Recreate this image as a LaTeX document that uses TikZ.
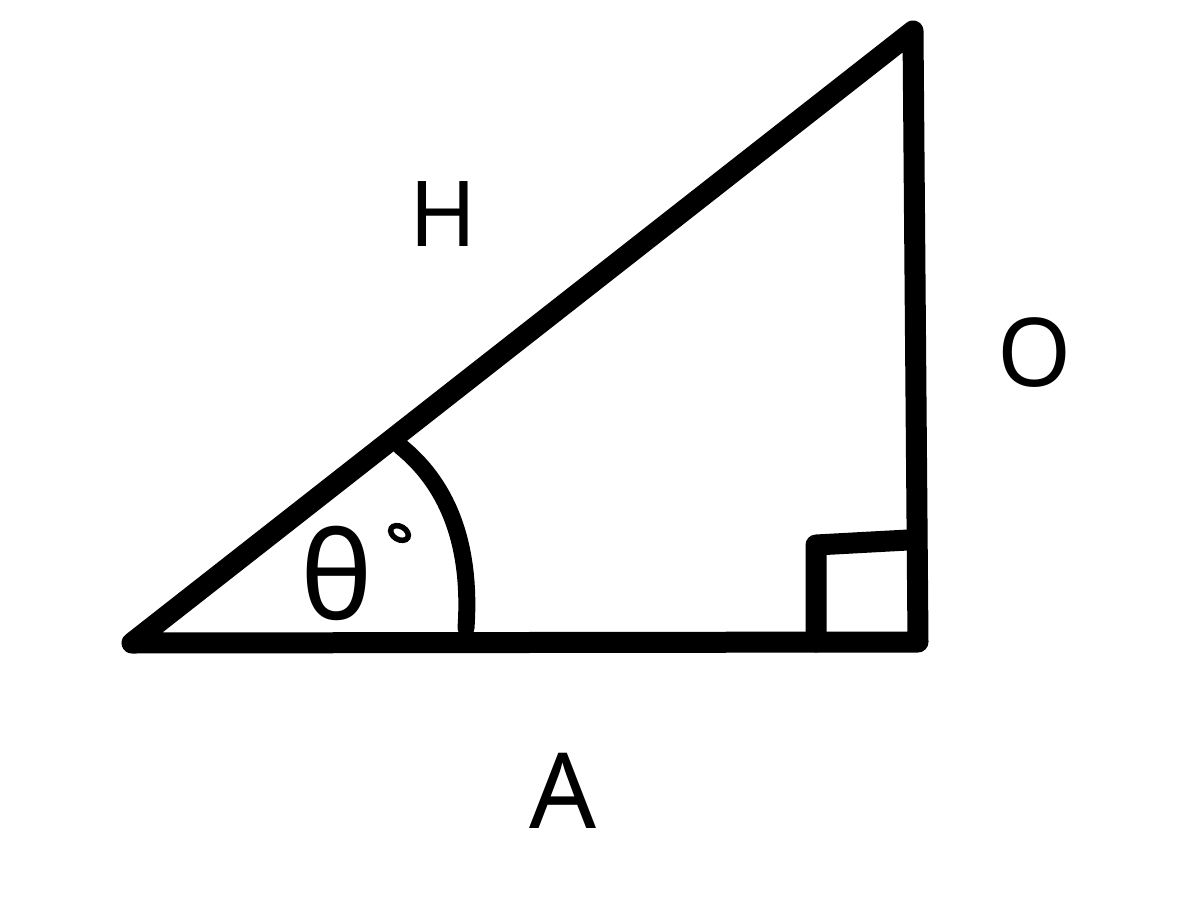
\documentclass[tikz,border=0pt]{standalone}
\usepackage{fontspec}
\setmainfont{Noto Sans}
\begin{document}
\begin{tikzpicture}[x=1pt,y=-1pt,
  side/.style={line width=21pt,line cap=round,line join=round},
  anglemark/.style={line width=17pt,line cap=round},
  lbl/.style={inner sep=0pt,outer sep=0pt}]
\useasboundingbox (0,0) rectangle (1187,902);
\coordinate (L) at (132,643);
\coordinate (T) at (913,31);
\coordinate (R) at (918,642);
\coordinate (S1) at (816,642);
\coordinate (S2) at (816,545);
\coordinate (S3) at (908,540);
\coordinate (P1) at (400,446);
\coordinate (P2) at (466,628);
\draw[side] (L) -- (T) -- (R) -- cycle;
\draw[side] (S1) -- (S2) -- (S3);
\draw[anglemark] (P1) .. controls (445,482) and (472,540) .. (P2);
\draw[line width=5.5pt] (399.5,533) ellipse [x radius=9.5, y radius=6.5, rotate=-30];
\node[lbl,font=\fontsize{91}{100}\selectfont] (h) at (443.5,214.5) {H};
\node[lbl,font=\fontsize{95}{110}\selectfont] (o) at (1035,353) {O};
\node[lbl,font=\fontsize{105}{120}\selectfont] (a) at (563,790.5) {A};
\node[lbl,font=\fontsize{122}{130}\selectfont] (th) at (336.5,573.5) {θ};
\end{tikzpicture}
\end{document}
